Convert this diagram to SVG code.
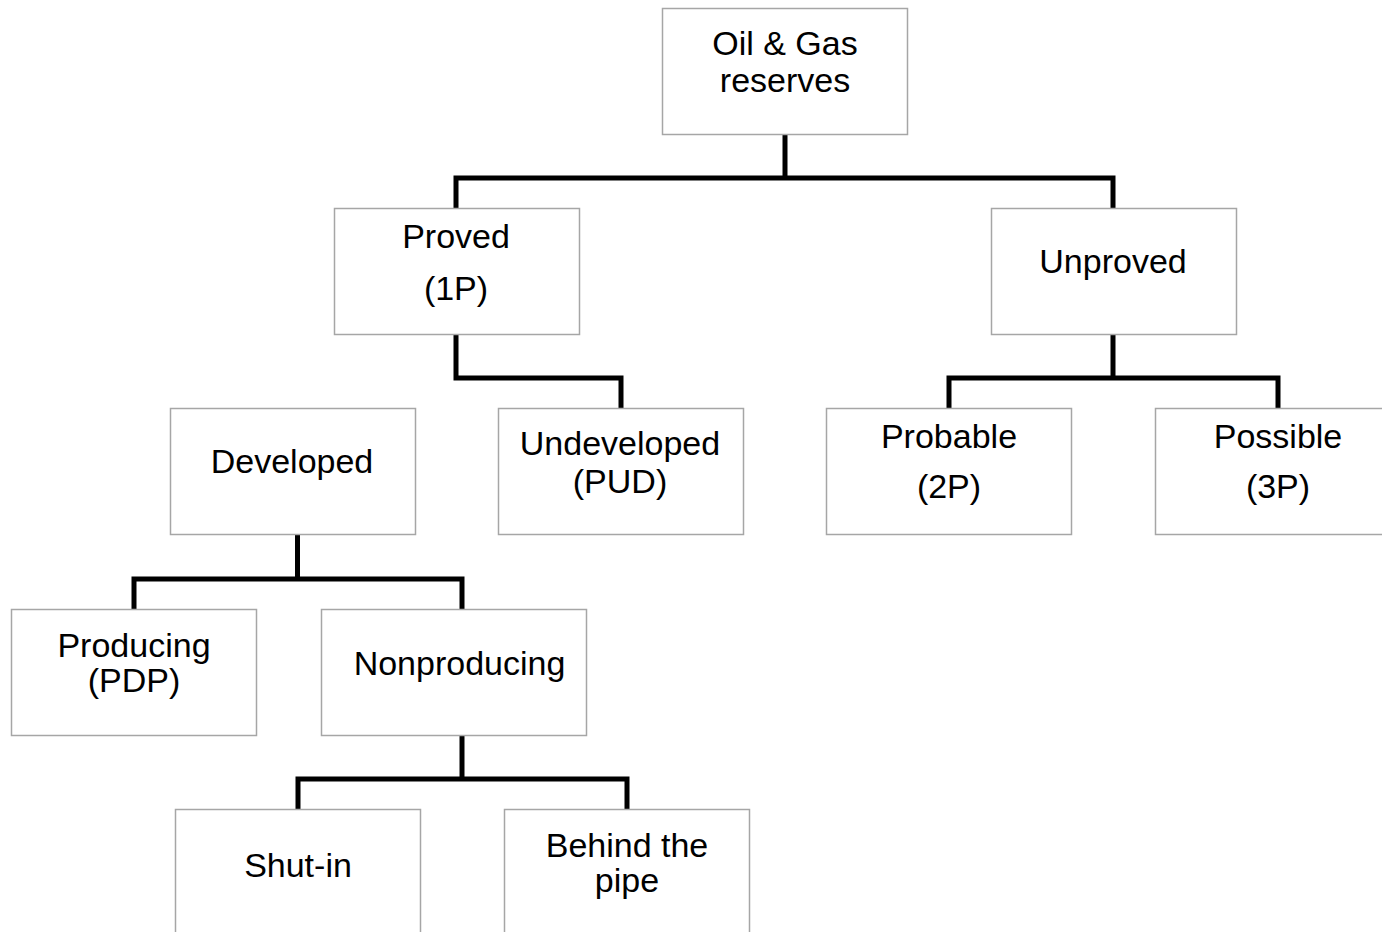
<svg xmlns="http://www.w3.org/2000/svg" width="1382" height="932" viewBox="0 0 1382 932">
<style>
.box{fill:#ffffff;stroke:#a6a6a6;stroke-width:1.5}
.t{font-family:"Liberation Sans",Arial,sans-serif;font-size:34px;fill:#000;text-anchor:middle}
.c{fill:none;stroke:#000;stroke-width:5;stroke-linejoin:miter;stroke-linecap:butt}
</style>
<rect width="1382" height="932" fill="#ffffff"/>
<g id="connectors">
<path class="c" d="M785 135V178"/>
<path class="c" d="M456 208V178H1113V208"/>
<path class="c" d="M456 335V378H621V408"/>
<path class="c" d="M1113 335V378"/>
<path class="c" d="M949 408V378H1278V408"/>
<path class="c" d="M297.5 535V579"/>
<path class="c" d="M134 609V579H462V609"/>
<path class="c" d="M462 736V779"/>
<path class="c" d="M298 809V779H627V809"/>
</g>
<g id="root">
<rect class="box" x="662.5" y="8.5" width="245" height="126"/>
<text class="t" x="785" y="55">Oil &amp; Gas</text>
<text class="t" x="785" y="92">reserves</text>
</g>
<g id="proved">
<rect class="box" x="334.5" y="208.5" width="245" height="126"/>
<text class="t" x="456" y="248">Proved</text>
<text class="t" x="456" y="300">(1P)</text>
</g>
<g id="unproved">
<rect class="box" x="991.5" y="208.5" width="245" height="126"/>
<text class="t" x="1113" y="273">Unproved</text>
</g>
<g id="developed">
<rect class="box" x="170.5" y="408.5" width="245" height="126"/>
<text class="t" x="292" y="473">Developed</text>
</g>
<g id="undeveloped">
<rect class="box" x="498.5" y="408.5" width="245" height="126"/>
<text class="t" x="620" y="455">Undeveloped</text>
<text class="t" x="620" y="493">(PUD)</text>
</g>
<g id="probable">
<rect class="box" x="826.5" y="408.5" width="245" height="126"/>
<text class="t" x="949" y="448">Probable</text>
<text class="t" x="949" y="498">(2P)</text>
</g>
<g id="possible">
<rect class="box" x="1155.5" y="408.5" width="245" height="126"/>
<text class="t" x="1278" y="448">Possible</text>
<text class="t" x="1278" y="498">(3P)</text>
</g>
<g id="producing">
<rect class="box" x="11.5" y="609.5" width="245" height="126"/>
<text class="t" x="134" y="657">Producing</text>
<text class="t" x="134" y="692">(PDP)</text>
</g>
<g id="nonproducing">
<rect class="box" x="321.5" y="609.5" width="265" height="126"/>
<text class="t" x="459.5" y="675">Nonproducing</text>
</g>
<g id="shutin">
<rect class="box" x="175.5" y="809.5" width="245" height="126"/>
<text class="t" x="298" y="877">Shut-in</text>
</g>
<g id="behind">
<rect class="box" x="504.5" y="809.5" width="245" height="126"/>
<text class="t" x="627" y="857">Behind the</text>
<text class="t" x="627" y="892">pipe</text>
</g>
</svg>
